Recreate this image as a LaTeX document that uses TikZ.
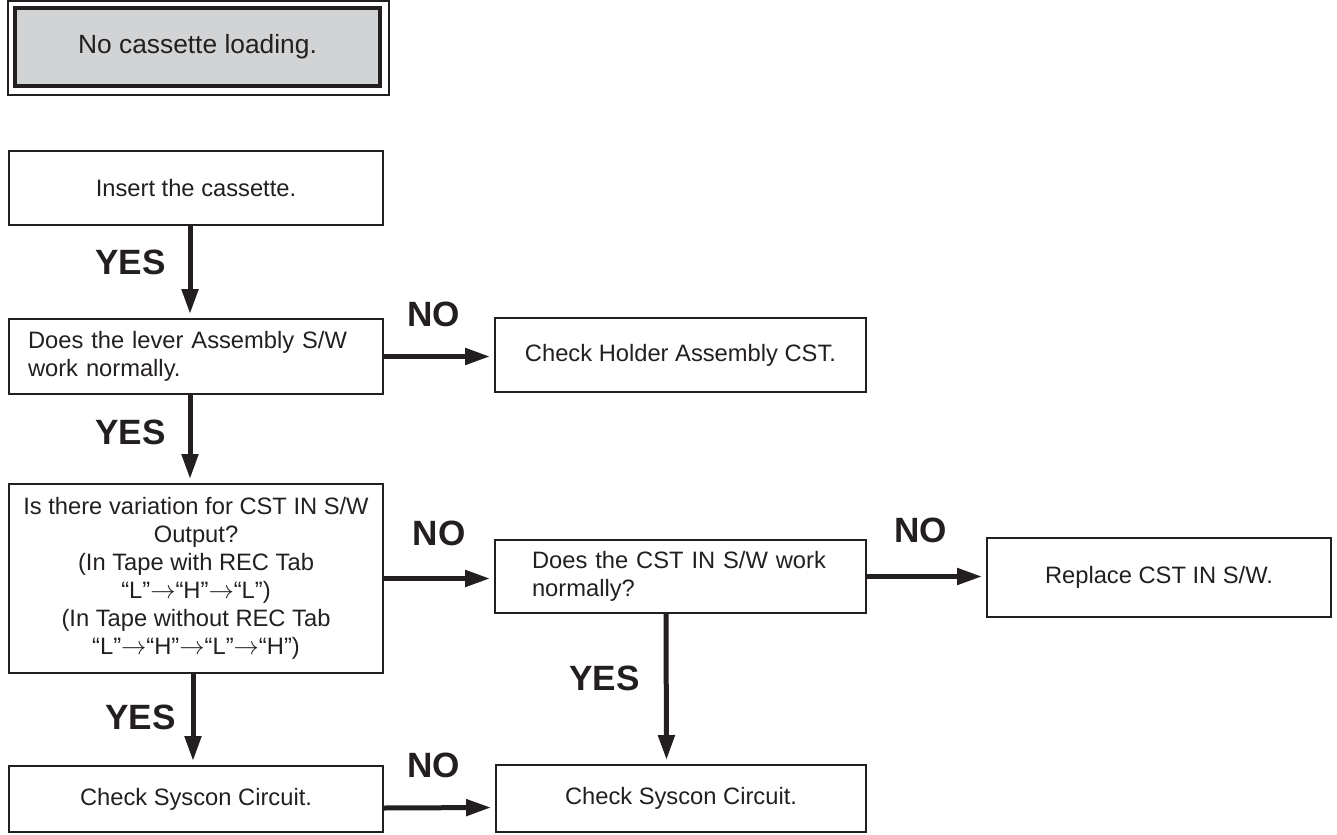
\documentclass[tikz,border=0pt]{standalone}
\usepackage{fontspec}
\setmainfont{Liberation Sans}
\usetikzlibrary{arrows.meta,positioning}
\definecolor{ink}{HTML}{231F20}
\definecolor{panel}{HTML}{D1D3D4}

\begin{document}
\begin{tikzpicture}[
  x=0.02cm, y=-0.02cm,
  >=Triangle,
  block/.style={rectangle, draw=ink, line width=0.04cm, text=ink, align=center, inner sep=0pt,
    minimum width=7.48cm, minimum height=1.48cm, font=\fontsize{13.5}{16}\selectfont},
  header/.style={block, fill=panel, line width=0.08cm, minimum width=7.3cm, minimum height=1.56cm,
    font=\fontsize{15}{18}\selectfont},
  answer/.style={text=ink, inner sep=0pt, font=\fontsize{20}{24}\selectfont\bfseries},
  line/.style={draw=ink, line width=0.1cm, -{Triangle[length=0.5cm, width=0.32cm]}, shorten >=0.08cm}
]
\useasboundingbox (0,0) rectangle (1337,834);

\node[header] (fault) at (197.5,47) {No cassette loading.};
\draw[ink, line width=0.04cm] ([shift={(-0.1cm,0.1cm)}]fault.north west) rectangle ([shift={(0.14cm,-0.14cm)}]fault.south east);

\node[block] (insert) at (196,188) {Insert the cassette.};
\node[block, minimum height=1.5cm, text width=6.72cm, align=left] (lever) at (196,356.5) {Does the lever Assembly S/W\\work normally.};
\node[block, minimum width=7.42cm] (holder) at (680.5,355) {Check Holder Assembly CST.};
\node[block, minimum height=3.78cm] (output) at (196,578.5) {Is there variation for CST IN S/W\\Output?\\(In Tape with REC Tab\\“L”$\rightarrow$“H”$\rightarrow$“L”)\\(In Tape without REC Tab\\“L”$\rightarrow$“H”$\rightarrow$“L”$\rightarrow$“H”)};
\node[block, minimum width=7.42cm, minimum height=1.46cm, text width=5.94cm, align=left] (cstsw) at (680.5,576.5) {Does the CST IN S/W work\\normally?};
\node[block, minimum width=6.88cm, minimum height=1.58cm] (replace) at (1159,577.5) {Replace CST IN S/W.};
\node[block, minimum height=1.32cm] (sys1) at (196,799) {Check Syscon Circuit.};
\node[block, minimum width=7.4cm, minimum height=1.34cm] (sys2) at (681,798.5) {Check Syscon Circuit.};

% left column, top to bottom
\path[line] ([xshift=-0.12cm]insert.south) -- ([xshift=-0.12cm]lever.north)
  node[answer, pos=0.4, left=0.44cm] (yes1) {YES};
\path[line] ([xshift=-0.12cm]lever.south) -- ([xshift=-0.12cm]output.north)
  node[answer, pos=0.42, left=0.44cm] (yes2) {YES};
\path[line] ([xshift=-0.06cm]output.south) -- ([xshift=-0.06cm]sys1.north)
  node[answer, pos=0.48, left=0.3cm] (yes3) {YES};

% NO branches to the right
\path[line] (lever.east) -- (lever.east -| holder.west)
  node[answer, pos=0.45, above=0.55cm] (no1) {NO};
\path[line] (output.east) -- (output.east -| cstsw.west)
  node[answer, pos=0.5, above=0.6cm] (no2) {NO};
\path[line] (cstsw.east) -- (cstsw.east -| replace.west)
  node[answer, pos=0.45, above=0.62cm] (no3) {NO};
\path[line] ([yshift=-0.18cm]sys1.east) -- ([yshift=-0.18cm]sys2.west)
  node[answer, pos=0.45, above=0.55cm] (no4) {NO};

\path[line] ([xshift=-0.29cm]cstsw.south) -- ([xshift=-0.29cm]sys2.north)
  node[answer, pos=0.43, left=0.48cm] (yes4) {YES};

\end{tikzpicture}
\end{document}
